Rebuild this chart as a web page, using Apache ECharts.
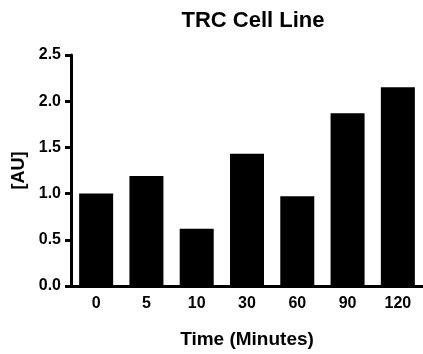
<!DOCTYPE html>
<html>
<head>
<meta charset="utf-8">
<script src="https://cdn.jsdelivr.net/npm/echarts@6/dist/echarts.min.js"></script>
<style>html,body{margin:0;padding:0;background:#fff;}#c{width:423px;height:354px;}</style>
</head>
<body>
<div id="c"></div>
<script>
const categories = ['0', '5', '10', '30', '60', '90', '120'];
const values = [1.0, 1.19, 0.62, 1.43, 0.97, 1.87, 2.15];
const yTicks = [0, 0.5, 1.0, 1.5, 2.0, 2.5];

const font = 'Liberation Sans, Arial, sans-serif';
const chart = echarts.init(document.getElementById('c'), null, {renderer: 'canvas'});
chart.setOption({
  animation: false,
  backgroundColor: '#fff',
  title: {
    text: 'TRC Cell Line',
    left: 248, top: 5, textAlign: 'center',
    textStyle: {fontFamily: font, fontWeight: 'bold', fontSize: 22, color: '#000'}
  },
  grid: {left: 71, right: -4, top: 55, bottom: 62.5, containLabel: false},
  xAxis: {
    type: 'category',
    data: categories,
    name: 'Time (Minutes)',
    nameLocation: 'middle',
    nameGap: 44,
    nameTextStyle: {fontFamily: font, fontWeight: 'bold', fontSize: 19, color: '#000'},
    axisLine: {lineStyle: {color: '#000', width: 3}},
    axisTick: {alignWithLabel: true, length: 6, lineStyle: {color: '#000', width: 3}},
    axisLabel: {margin: 10, fontFamily: font, fontWeight: 'bold', fontSize: 16, color: '#000'}
  },
  yAxis: {
    type: 'value',
    min: yTicks[0], max: yTicks[yTicks.length - 1], interval: 0.5,
    name: '[AU]',
    nameLocation: 'middle',
    nameGap: 36,
    nameRotate: 90,
    nameTextStyle: {fontFamily: font, fontWeight: 'bold', fontSize: 18, color: '#000'},
    splitLine: {show: false},
    axisLine: {show: true, lineStyle: {color: '#000', width: 3}},
    axisTick: {show: true, length: 6, lineStyle: {color: '#000', width: 3}},
    axisLabel: {margin: 10, fontFamily: font, fontWeight: 'bold', fontSize: 16, color: '#000',
      formatter: v => v.toFixed(1)}
  },
  series: [{
    type: 'bar',
    data: values,
    barWidth: 34,
    itemStyle: {color: '#000'}
  }]
});
</script>
</body>
</html>
